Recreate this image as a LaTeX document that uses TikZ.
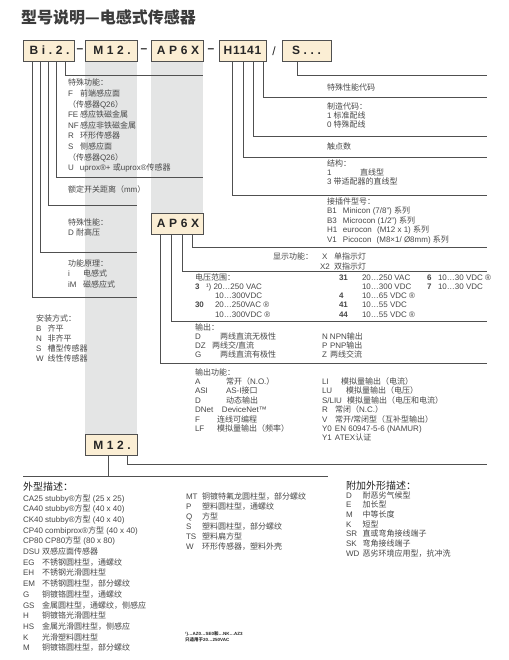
\documentclass[tikz,border=0pt]{standalone}
\usepackage{fontspec}
\setmainfont{Liberation Sans}
\newfontfamily\cjkf{Noto Sans CJK SC}
\newfontfamily\boxf[LetterSpace=30]{Liberation Sans}
\newfontfamily\boxg[LetterSpace=6]{Liberation Sans}
\newcommand\latf{\rmfamily}
\XeTeXinterchartokenstate=1
\newXeTeXintercharclass\CJKcls
\newcount\cjkcnt
\cjkcnt="4E00
\loop
  \XeTeXcharclass\cjkcnt=\CJKcls
  \ifnum\cjkcnt<"9FFF
  \advance\cjkcnt by 1
\repeat
\XeTeXcharclass"FF1A=\CJKcls
\XeTeXcharclass"FF08=\CJKcls
\XeTeXcharclass"FF09=\CJKcls
\XeTeXcharclass"FF0C=\CJKcls
\XeTeXcharclass"3001=\CJKcls
\XeTeXcharclass"2014=\CJKcls
\XeTeXinterchartoks 0 \CJKcls = {\cjkf}
\XeTeXinterchartoks 4095 \CJKcls = {\cjkf}
\XeTeXinterchartoks \CJKcls 0 = {\latf}
\XeTeXinterchartoks \CJKcls 4095 = {\latf}
\newcommand\cdx[2]{\makebox[#1][l]{#2}}
\newcommand\Fst{\rule{0pt}{8pt}}
\definecolor{boxfill}{RGB}{251,238,212}
\definecolor{band}{RGB}{228,229,229}
\definecolor{lnc}{RGB}{80,80,80}
\definecolor{txc}{RGB}{72,72,72}
\definecolor{hdc}{RGB}{35,35,35}
\definecolor{ttc}{RGB}{60,60,60}
\begin{document}
\begin{tikzpicture}[x=1pt,y=-1pt,
  codebox/.style={draw=lnc, line width=0.9pt, fill=boxfill, minimum height=21pt, inner sep=0pt, text=black!85, font=\boxf\bfseries\fontsize{12}{14}\selectfont},
  ln/.style={draw=lnc, line width=0.9pt},
  tx/.style={anchor=north west, inner sep=0pt, outer sep=0pt, align=left, text=txc, font=\fontsize{8}{#1}\selectfont},
  hd/.style={anchor=base west, inner sep=0pt, text=hdc, font=\fontsize{10}{12}\selectfont},
  sep/.style={inner sep=0pt, text=black!85, font=\bfseries\fontsize{12}{14}\selectfont}
]
\useasboundingbox (0,0) rectangle (508,660);
\fill[white] (0,0) rectangle (508,660);
% title
\node[anchor=base west, inner sep=0pt, text=ttc, font=\bfseries\fontsize{16}{18}\selectfont] (ttl) at (21,23.5) {型号说明—电感式传感器};
% gray bands
\fill[band] (85,61) rectangle (137,434);
\fill[band] (151,61) rectangle (203,213);
% code boxes
\node[codebox, minimum width=51pt] (bi) at (48.5,50.5) {\hspace*{2pt}Bi.2.};
\node[codebox, minimum width=52pt] (m12) at (111,50.5) {\hspace*{2pt}M12.};
\node[codebox, minimum width=52pt] (ap) at (177,50.5) {\hspace*{2pt}AP6X};
\node[codebox, minimum width=47pt, font=\boxg\bfseries\fontsize{12}{14}\selectfont] (hh) at (242.5,50.5) {H1141};
\node[codebox, minimum width=49pt] (ss) at (306.5,50.5) {S...};
\node[sep] (dA) at (80,51) {–};
\node[sep] (dB) at (144,51) {–};
\node[sep] (dC) at (211,51) {–};
\node[sep, font=\fontsize{12}{14}\selectfont] (dD) at (274,51) {/};
\node[codebox, minimum width=52pt] (apb) at (177,223.5) {\hspace*{2pt}AP6X};
\node[codebox, minimum width=52pt] (m12b) at (111,445) {\hspace*{2pt}M12.};
% connector ends
\coordinate (e1) at (203,75);
\coordinate (e2) at (203,177);
\coordinate (e3) at (137,205);
\coordinate (e4) at (137,252);
\coordinate (e5) at (137,297);
\coordinate (r0) at (487,75);
\coordinate (r1) at (487,97);
\coordinate (r2) at (487,136);
\coordinate (r3) at (487,157);
\coordinate (r4) at (487,195);
\coordinate (a1) at (487,247);
\coordinate (a2) at (487,271);
\coordinate (a3) at (487,321);
\coordinate (a4) at (487,363);
\coordinate (m1) at (487,464);
\coordinate (bl) at (23,476);
\coordinate (br) at (328,476);
% Bi.2. connectors
\draw[ln] (bi.south west) ++(43,0) |- (e1);
\draw[ln] (bi.south west) ++(34,0) |- (e2);
\draw[ln] (bi.south west) ++(26,0) |- (e3);
\draw[ln] (bi.south west) ++(18,0) |- (e4);
\draw[ln] (bi.south west) ++(10,0) |- (e5);
% H1141 and S... connectors
\draw[ln] (ss.south west) ++(16,0) |- (r0);
\draw[ln] (hh.south west) ++(45,0) |- (r1);
\draw[ln] (hh.south west) ++(35,0) |- (r2);
\draw[ln] (hh.south west) ++(25,0) |- (r3);
\draw[ln] (hh.south west) ++(14,0) |- (r4);
% AP6X connectors
\draw[ln] (apb.south west) ++(42,0) |- (a1);
\draw[ln] (apb.south west) ++(32,0) |- (a2);
\draw[ln] (apb.south west) ++(21,0) |- (a3);
\draw[ln] (apb.south west) ++(10,0) |- (a4);
% M12. connectors
\draw[ln] (m12b.south west) ++(43,0) |- (m1);
\draw[ln] (m12b.south west) ++(24,0) |- (br);
\draw[ln] (bl) -- (br);
% left texts
\node[tx=10.6] (sfblk) at (68,78) {\Fst 特殊功能：\\
\cdx{12pt}{F}前端感应面\\
（传感器Q26）\\
\cdx{12pt}{FE}感应铁磁金属\\
\cdx{12pt}{NF}感应非铁磁金属\\
\cdx{12pt}{R}环形传感器\\
\cdx{12pt}{S}侧感应面\\
（传感器Q26）\\
\cdx{12pt}{U}uprox®+ 或uprox®传感器};
\node[tx=10] (edblk) at (68,185) {\Fst 额定开关距离（mm）};
\node[tx=10] (spblk) at (68,217) {\Fst 特殊性能：\\D 耐高压};
\node[tx=10.7] (gnblk) at (68,258) {\Fst 功能原理：\\
\cdx{15pt}{i}电感式\\
\cdx{15pt}{iM}磁感应式};
\node[tx=10] (azblk) at (36,313) {\Fst 安装方式：\\
\cdx{11.5pt}{B}齐平\\
\cdx{11.5pt}{N}非齐平\\
\cdx{11.5pt}{S}槽型传感器\\
\cdx{11.5pt}{W}线性传感器};
% right upper texts
\node[tx=10] (tsdm) at (327,83) {\Fst 特殊性能代码};
\node[tx=8.8] (zzdm) at (327,102) {\Fst 制造代码：\\1 标准配线\\0 特殊配线};
\node[tx=10] (cds) at (327,142) {\Fst 触点数};
\node[tx=9] (jg) at (327,159) {\Fst 结构：\\
\cdx{33pt}{1}直线型\\
3 带适配器的直线型};
\node[tx=9.5] (jcj) at (327,196) {\Fst 接插件型号：\\
\cdx{16pt}{B1}Minicon (7/8") 系列\\
\cdx{16pt}{B3}Microcon (1/2") 系列\\
\cdx{16pt}{H1}eurocon\hspace{3pt} (M12 x 1) 系列\\
\cdx{16pt}{V1}Picocon\hspace{3pt} (M8×1/ Ø8mm) 系列};
\node[tx=10] (xsgn) at (273,251) {\Fst 显示功能：};
\node[tx=10] (xscd) at (320,251) {\Fst\cdx{14pt}{\hspace*{2pt}X}单指示灯\\
\cdx{14pt}{X2}双指示灯};
% voltage
\node[tx=9.3] (dy1) at (195,272) {\Fst 电压范围：\\
\cdx{11pt}{\textbf{3}}¹) 20…250 VAC\\
\hspace*{20pt}10…300VDC\\
\cdx{20pt}{\textbf{30}}20…250VAC ®\\
\hspace*{20pt}10…300VDC ®};
\node[tx=9.3] (dy2) at (339,272) {\Fst\cdx{23pt}{\textbf{31}}20…250 VAC\\
\hspace*{23pt}10…300 VDC\\
\cdx{23pt}{\textbf{4}}10…65 VDC ®\\
\cdx{23pt}{\textbf{41}}10…55 VDC\\
\cdx{23pt}{\textbf{44}}10…55 VDC ®};
\node[tx=9.3] (dy3) at (427,272) {\Fst\cdx{11pt}{\textbf{6}}10…30 VDC ®\\
\cdx{11pt}{\textbf{7}}10…30 VDC};
% output
\node[tx=9.3] (sc1) at (195,322) {\Fst 输出：\\
\cdx{25pt}{D}两线直流无极性\\
\cdx{17pt}{DZ}两线交/直流\\
\cdx{25pt}{G}两线直流有极性};
\node[tx=9.3] (sc2) at (322,331.3) {\Fst\cdx{8pt}{N}NPN输出\\
\cdx{8pt}{P}PNP输出\\
\cdx{8pt}{Z}两线交流};
% output function
\node[tx=9.4] (gn1) at (195,367) {\Fst 输出功能：\\
\cdx{31pt}{A}常开（N.O.）\\
\cdx{31pt}{ASI}AS-I接口\\
\cdx{31pt}{D}动态输出\\
\cdx{27pt}{DNet}DeviceNet™\\
\cdx{22pt}{F}连线可编程\\
\cdx{22pt}{LF}模拟量输出（频率）};
\node[tx=9.4] (gn2) at (322,376.4) {\Fst\cdx{19pt}{LI}模拟量输出（电流）\\
\cdx{24pt}{LU}模拟量输出（电压）\\
\cdx{25pt}{S/LIU}模拟量输出（电压和电流）\\
\cdx{13pt}{R}常闭（N.C.）\\
\cdx{13pt}{V}常开/常闭型（互补型输出）\\
\cdx{13pt}{Y0}EN 60947-5-6 (NAMUR)\\
\cdx{13pt}{Y1}ATEX认证};
% bottom left
\node[hd] (wxhd) at (23,490) {外型描述：};
\node[tx=10.71] (wx) at (23,493) {\Fst CA25 stubby®方型 (25 x 25)\\
CA40 stubby®方型 (40 x 40)\\
CK40 stubby®方型 (40 x 40)\\
CP40 combiprox®方型 (40 x 40)\\
CP80 CP80方型 (80 x 80)\\
\cdx{19pt}{DSU}双感应面传感器\\
\cdx{19pt}{EG}不锈钢圆柱型，通螺纹\\
\cdx{19pt}{EH}不锈钢光滑圆柱型\\
\cdx{19pt}{EM}不锈钢圆柱型，部分螺纹\\
\cdx{19pt}{G}铜镀铬圆柱型，通螺纹\\
\cdx{19pt}{GS}金属圆柱型，通螺纹，侧感应\\
\cdx{19pt}{H}铜镀铬光滑圆柱型\\
\cdx{19pt}{HS}金属光滑圆柱型，侧感应\\
\cdx{19pt}{K}光滑塑料圆柱型\\
\cdx{19pt}{M}铜镀铬圆柱型，部分螺纹};
\node[tx=10] (mt) at (186,491) {\Fst\cdx{16pt}{MT}铜镀特氟龙圆柱型，部分螺纹\\
\cdx{16pt}{P}塑料圆柱型，通螺纹\\
\cdx{16pt}{Q}方型\\
\cdx{16pt}{S}塑料圆柱型，部分螺纹\\
\cdx{16pt}{TS}塑料扁方型\\
\cdx{16pt}{W}环形传感器，塑料外壳};
\node[hd] (fjhd) at (346,489) {附加外形描述：};
\node[tx=9.7] (fj) at (346,490) {\Fst\cdx{16.5pt}{D}耐恶劣气候型\\
\cdx{16.5pt}{E}加长型\\
\cdx{16.5pt}{M}中等长度\\
\cdx{16.5pt}{K}短型\\
\cdx{16.5pt}{SR}直或弯角接线端子\\
\cdx{16.5pt}{SK}弯角接线端子\\
\cdx{16.5pt}{WD}恶劣环境应用型，抗冲洗};
\node[anchor=north west, inner sep=0pt, align=left, text=black!85, font=\bfseries\fontsize{4.5}{6}\selectfont] (fn) at (185,631) {¹)…AZ0…SE0和…NK…AZ3\\只适用于20…250VAC};
\end{tikzpicture}
\end{document}
